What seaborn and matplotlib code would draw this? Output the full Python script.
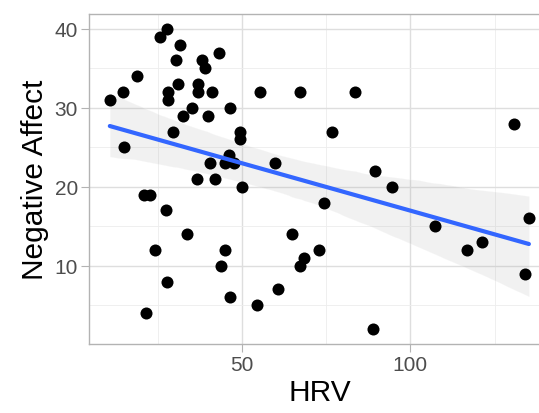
import matplotlib
matplotlib.use("Agg")
import matplotlib.pyplot as plt
import pandas as pd
import seaborn as sns

# values
hrv = [10.7, 14.6, 18.8, 14.9, 27.6, 25.6, 31.5, 30.5, 38, 39, 43, 31,
       28, 28, 37, 37, 41, 35, 32.5, 40, 46.4, 29.4, 49.4, 49.4,
       46, 45, 47.5, 40.5, 36.5, 42, 50, 21, 22.5, 27.4, 33.7, 24.1,
       44.9, 43.7, 27.6, 46.4, 21.6, 55.4, 67.3, 83.6, 76.7, 59.8,
       89.5, 94.5, 74.2, 64.8, 72.7, 68.3, 67.1, 60.6, 54.4, 88.9,
       130.8, 135.2, 107.4, 121.3, 116.9, 133.9]
neg_affect = [31, 32, 34, 25, 40, 39, 38, 36, 36, 35, 37, 33,
              32, 31, 33, 32, 32, 30, 29, 29, 30, 27, 27, 26,
              24, 23, 23, 23, 21, 21, 20, 19, 19, 17, 14, 12,
              12, 10, 8, 6, 4, 32, 32, 32, 27, 23,
              22, 20, 18, 14, 12, 11, 10, 7, 5, 2,
              28, 16, 15, 13, 12, 9]
x_ticks = [50, 100]
y_ticks = [10, 20, 30, 40]

df = pd.DataFrame({"HRV": hrv, "Negative Affect": neg_affect})

sns.set_theme(style="white")
plt.rcParams["font.family"] = ["Liberation Sans", "DejaVu Sans"]

fig, ax = plt.subplots(figsize=(5.39, 4.14), dpi=100)
fig.subplots_adjust(left=0.165, right=1.02, top=0.964, bottom=0.167)

sns.regplot(data=df, x="HRV", y="Negative Affect", ax=ax, seed=1,
            scatter_kws=dict(s=75, color="black", linewidths=0, alpha=1, zorder=3),
            line_kws=dict(color="#3366FF", lw=3, zorder=4))
# ggplot-like faint grey band
for coll in ax.collections[1:]:
    coll.set_facecolor("#999999")
    coll.set_alpha(0.13)

ax.set_xlim(4.5, 141.4)
ax.set_ylim(0.1, 41.9)
ax.set_xticks(x_ticks)
ax.set_yticks(y_ticks)
ax.set_xticks([25, 75, 125], minor=True)
ax.set_yticks([5, 15, 25, 35], minor=True)
ax.grid(True, which="major", color="#DEDEDE", lw=1.0)
ax.grid(True, which="minor", color="#EDEDED", lw=0.6)
ax.set_axisbelow(True)

for s in ax.spines.values():
    s.set_color("#B3B3B3")
    s.set_linewidth(1.0)

ax.tick_params(axis="both", which="major", length=6, width=0.8, color="#B3B3B3",
               labelsize=15, labelcolor="#4D4D4D", pad=2, bottom=True, left=True)
ax.tick_params(axis="both", which="minor", length=0)
ax.set_xlabel("HRV", fontsize=21.5, color="black", labelpad=3)
ax.set_ylabel("Negative Affect", fontsize=21.5, color="black", labelpad=4)

fig.savefig("out.png", dpi=100)
